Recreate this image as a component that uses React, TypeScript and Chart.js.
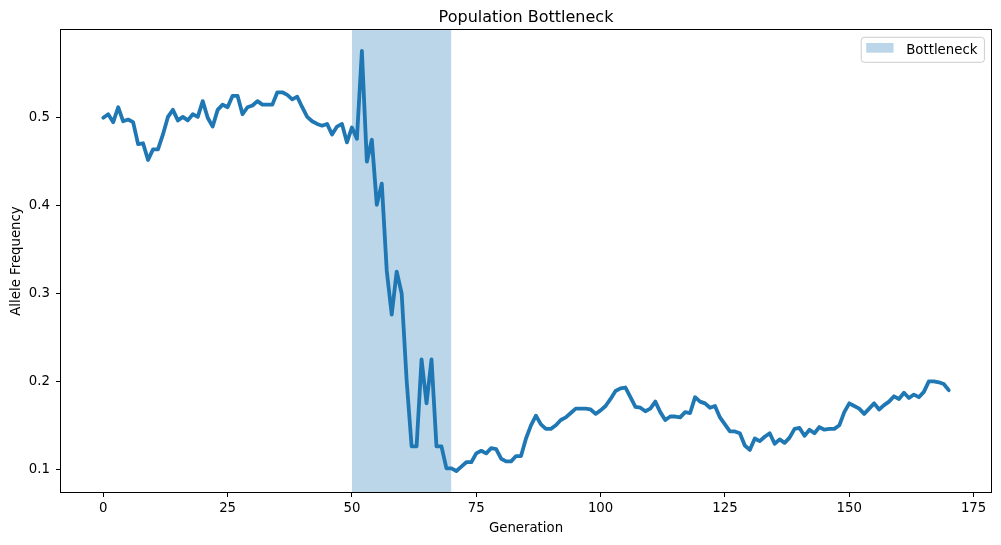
import { useEffect, useRef } from "react";
import { Chart, registerables } from "chart.js";

Chart.register(...registerables);

// allele frequency per generation (index = generation)
const FREQUENCY = [
    0.500, 0.504, 0.495, 0.512, 0.496, 0.498, 0.495, 0.470, 0.471, 0.452,
    0.464, 0.464, 0.481, 0.501, 0.509, 0.497, 0.501, 0.497, 0.504, 0.501,
    0.519, 0.500, 0.490, 0.509, 0.515, 0.512, 0.525, 0.525, 0.504, 0.512,
    0.514, 0.519, 0.515, 0.515, 0.515, 0.529, 0.529, 0.526, 0.521, 0.524,
    0.512, 0.501, 0.496, 0.493, 0.491, 0.493, 0.481, 0.490, 0.493, 0.472,
    0.489, 0.476, 0.576, 0.450, 0.475, 0.401, 0.425, 0.326, 0.276, 0.325,
    0.300, 0.201, 0.126, 0.126, 0.225, 0.175, 0.225, 0.126, 0.126, 0.101,
    0.101, 0.098, 0.103, 0.108, 0.108, 0.118, 0.121, 0.118, 0.124, 0.123,
    0.112, 0.109, 0.109, 0.115, 0.115, 0.135, 0.150, 0.161, 0.151, 0.146,
    0.146, 0.150, 0.156, 0.159, 0.164, 0.169, 0.169, 0.169, 0.168, 0.163,
    0.167, 0.172, 0.180, 0.189, 0.192, 0.193, 0.182, 0.171, 0.170, 0.166,
    0.169, 0.177, 0.165, 0.156, 0.160, 0.160, 0.159, 0.165, 0.164, 0.182,
    0.177, 0.175, 0.170, 0.172, 0.159, 0.151, 0.143, 0.143, 0.141, 0.127,
    0.122, 0.135, 0.132, 0.137, 0.141, 0.129, 0.134, 0.130, 0.136, 0.146,
    0.147, 0.138, 0.145, 0.141, 0.148, 0.145, 0.146, 0.146, 0.150, 0.165,
    0.175, 0.172, 0.169, 0.163, 0.169, 0.175, 0.168, 0.173, 0.177, 0.183,
    0.180, 0.187, 0.181, 0.185, 0.182, 0.188, 0.200, 0.200, 0.199, 0.197,
    0.190,
];
const BOTTLENECK = [50, 70];
const X_TICKS = [0, 25, 50, 75, 100, 125, 150, 175];
const Y_TICKS = [0.1, 0.2, 0.3, 0.4, 0.5];

const TITLE = "Population Bottleneck";
const X_LABEL = "Generation";
const Y_LABEL = "Allele Frequency";
const SHADE_LABEL = "Bottleneck";

const FONT = "'DejaVu Sans', sans-serif";
const BLUE = "#1f77b4";
const SHADE = "rgba(31, 119, 180, 0.3)";

// matplotlib-style 5% margins
const lastGen = FREQUENCY.length - 1;
const X_MIN = -0.05 * lastGen;
const X_MAX = lastGen * 1.05;
const fMin = Math.min(...FREQUENCY);
const fMax = Math.max(...FREQUENCY);
const Y_MIN = fMin - 0.05 * (fMax - fMin);
const Y_MAX = fMax + 0.05 * (fMax - fMin);

const framePlugin = {
    id: "frame",
    afterDraw(chart: Chart) {
        const { ctx, chartArea } = chart;
        const { left, right, top, bottom } = chartArea;
        ctx.save();

        // spines
        ctx.strokeStyle = "#000";
        ctx.lineWidth = 1;
        ctx.strokeRect(Math.round(left) - 0.5, Math.round(top) - 0.5,
            Math.round(right - left) + 1, Math.round(bottom - top) + 1);

        // title
        ctx.fillStyle = "#000";
        ctx.font = `16px ${FONT}`;
        ctx.textAlign = "center";
        ctx.textBaseline = "alphabetic";
        ctx.fillText(TITLE, (left + right) / 2, 21.7);

        // legend
        ctx.font = `13.3px ${FONT}`;
        const textW = ctx.measureText(SHADE_LABEL).width;
        const boxW = 5 + 27.3 + 12.7 + textW + 7;
        const boxH = 25;
        const bx = right - 6.6 - boxW;
        const by = top + 7.3;
        ctx.beginPath();
        if ((ctx as any).roundRect) (ctx as any).roundRect(bx, by, boxW, boxH, 3);
        else ctx.rect(bx, by, boxW, boxH);
        ctx.fillStyle = "rgba(255,255,255,0.8)";
        ctx.fill();
        ctx.strokeStyle = "#cccccc";
        ctx.stroke();
        ctx.fillStyle = SHADE;
        ctx.fillRect(bx + 5, by + 5.7, 27.3, 9.7);
        ctx.fillStyle = "#000";
        ctx.textAlign = "left";
        ctx.fillText(SHADE_LABEL, bx + 45, by + 17);

        ctx.restore();
    },
};

const App: React.FC = () => {
    const canvasRef = useRef<HTMLCanvasElement | null>(null);

    useEffect(() => {
        if (!canvasRef.current) return;
        const ctx = canvasRef.current.getContext("2d");
        if (!ctx) return;

        const tickFont = { family: FONT, size: 13.3 };

        const chart = new Chart(ctx, {
            type: "line",
            data: {
                datasets: [
                    {
                        label: "Allele Frequency",
                        data: FREQUENCY.map((y, x) => ({ x, y })),
                        borderColor: BLUE,
                        borderWidth: 3.8,
                        borderJoinStyle: "round",
                        borderCapStyle: "round",
                        pointRadius: 0,
                        fill: false,
                        tension: 0,
                        order: 1,
                    },
                    {
                        label: SHADE_LABEL,
                        data: BOTTLENECK.map((x) => ({ x, y: Y_MAX })),
                        borderWidth: 0,
                        borderColor: "rgba(0,0,0,0)",
                        backgroundColor: SHADE,
                        pointRadius: 0,
                        fill: "start",
                        order: 2,
                    },
                ],
            },
            options: {
                animation: false,
                responsive: true,
                maintainAspectRatio: false,
                layout: { padding: { top: 30, right: 10, left: 0, bottom: 0 } },
                plugins: {
                    legend: { display: false },
                    title: { display: false },
                    tooltip: { enabled: false },
                },
                scales: {
                    x: {
                        type: "linear",
                        min: X_MIN,
                        max: X_MAX,
                        afterBuildTicks: (s: any) => {
                            s.ticks = X_TICKS.map((value) => ({ value }));
                        },
                        afterFit: (s: any) => {
                            s.height = 53;
                        },
                        ticks: {
                            font: tickFont,
                            color: "#000",
                            padding: 4,
                            maxRotation: 0,
                            autoSkip: false,
                            callback: (v: any) => String(v),
                        },
                        grid: {
                            drawOnChartArea: false,
                            drawTicks: true,
                            tickLength: 5,
                            tickColor: "#000",
                            tickWidth: 1,
                        },
                        border: { display: false },
                        title: {
                            display: true,
                            text: X_LABEL,
                            font: tickFont,
                            color: "#000",
                            padding: { top: 0, bottom: 8 },
                        },
                    },
                    y: {
                        type: "linear",
                        min: Y_MIN,
                        max: Y_MAX,
                        afterBuildTicks: (s: any) => {
                            s.ticks = Y_TICKS.map((value) => ({ value }));
                        },
                        afterFit: (s: any) => {
                            s.width = 61;
                        },
                        ticks: {
                            font: tickFont,
                            color: "#000",
                            padding: 6,
                            autoSkip: false,
                            callback: (v: any) => Number(v).toFixed(1),
                        },
                        grid: {
                            drawOnChartArea: false,
                            drawTicks: true,
                            tickLength: 5,
                            tickColor: "#000",
                            tickWidth: 1,
                        },
                        border: { display: false },
                        title: {
                            display: true,
                            text: Y_LABEL,
                            font: tickFont,
                            color: "#000",
                            padding: { top: 8.7, bottom: 0 },
                        },
                    },
                },
            },
            plugins: [framePlugin],
        });

        return () => {
            chart.destroy();
        };
    }, []);

    return (
        <div style={{ position: "absolute", left: 0, top: 0, width: 1001, height: 545, background: "#fff" }}>
            <canvas ref={canvasRef}></canvas>
        </div>
    );
};

export default App;
